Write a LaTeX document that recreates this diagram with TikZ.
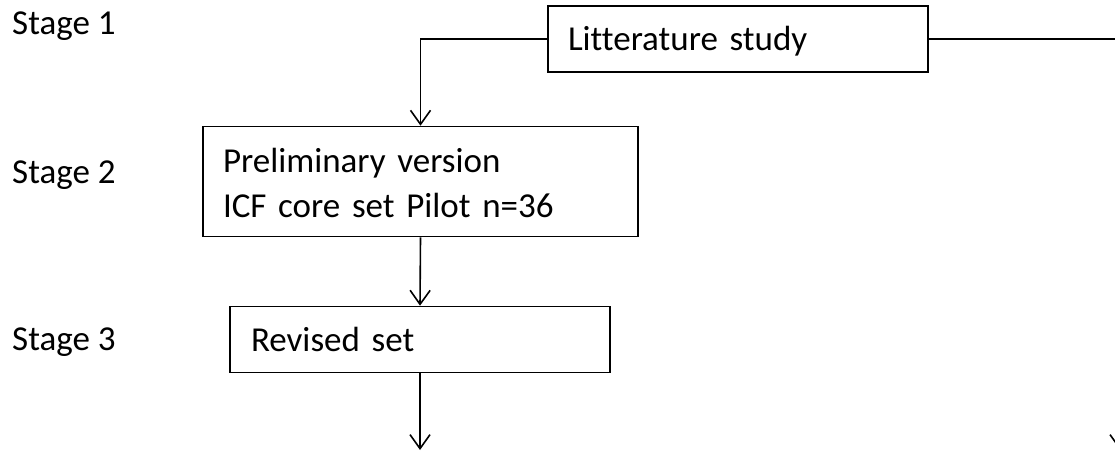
\documentclass[tikz,border=0pt]{standalone}
\usepackage{fontspec}
\setmainfont{Carlito}[Ligatures=NoCommon]
\usetikzlibrary{arrows.meta}
\tikzset{
  box/.style={draw, line width=1.6pt, inner xsep=0pt, inner ysep=0pt, align=left,
    font=\fontsize{35}{45}\selectfont, text height=24pt, text depth=0pt},
  stagelbl/.style={anchor=base west, inner sep=0pt, font=\fontsize{35}{45}\selectfont},
  arr/.style={line width=1.6pt, -{Straight Barb[length=14pt,width=20pt,line width=1.6pt]}},
  conn/.style={line width=1.6pt}
}
\begin{document}
\begin{tikzpicture}[x=1pt,y=-1pt]
\useasboundingbox (0,0) rectangle (1115,452);
\clip (0,0) rectangle (1115,452);
\node[box, minimum width=380pt, minimum height=66pt, text width=340pt] (lit) at (738,39) {Litterature study};
\node[box, minimum width=435pt, minimum height=110pt, text width=395pt, text height=24pt, text depth=43pt] (pre) at (420.5,181.5) {Preliminary version\\ICF core set Pilot n=36};
\node[box, minimum width=380pt, minimum height=66pt, text width=338pt] (rev) at (420,339.5) {Revised set};
\node[stagelbl] (s1) at (12,35) {Stage 1};
\node[stagelbl] (s2) at (12,183) {Stage 2};
\node[stagelbl] (s3) at (12,350) {Stage 3};
\coordinate (bend) at (1120,39);
\coordinate (endA) at (420,450);
\coordinate (endB) at (1120,450);
\draw[arr] (lit.west) -| (pre.north);
\draw[arr] (pre.south) -- (rev.north);
\draw[arr] (rev.south) -- (endA);
\draw[arr] (lit.east) -- (bend) -- (endB);
\end{tikzpicture}
\end{document}
